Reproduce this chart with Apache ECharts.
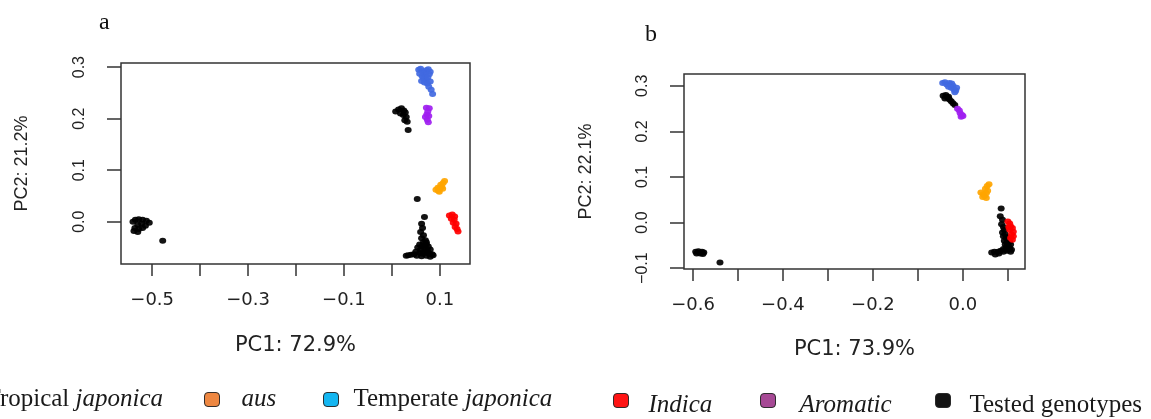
<!DOCTYPE html>
<html>
<head>
<meta charset="utf-8">
<script src="https://cdn.jsdelivr.net/npm/echarts@6/dist/echarts.min.js"></script>
<style>
  html, body { margin: 0; padding: 0; background: #fff; }
  #main { width: 1151px; height: 419px; }
</style>
</head>
<body>
<div id="main"></div>
<script>
// ---- panel a: PC1 vs PC2 ----
var aTested = [
  [-0.540, 0.000], [-0.535, 0.004], [-0.528, 0.005], [-0.520, 0.004], [-0.512, 0.002],
  [-0.506, -0.002], [-0.530, -0.006], [-0.522, -0.004], [-0.514, -0.008], [-0.536, -0.012],
  [-0.528, -0.014], [-0.538, -0.018], [-0.530, -0.020], [-0.520, -0.012], [-0.478, -0.037],
  [0.008, 0.214], [0.014, 0.218], [0.020, 0.220], [0.025, 0.216], [0.018, 0.210],
  [0.024, 0.207], [0.028, 0.212], [0.030, 0.203], [0.027, 0.197], [0.032, 0.194], [0.034, 0.178],
  [0.053, 0.044], [0.068, 0.009], [0.062, -0.004], [0.064, -0.012], [0.060, -0.020],
  [0.066, -0.026], [0.062, -0.032], [0.070, -0.036], [0.066, -0.040], [0.058, -0.044],
  [0.064, -0.046], [0.072, -0.044], [0.076, -0.048], [0.054, -0.050], [0.060, -0.054],
  [0.068, -0.052], [0.074, -0.056], [0.080, -0.054], [0.050, -0.058], [0.058, -0.060],
  [0.064, -0.062], [0.070, -0.060], [0.078, -0.062], [0.084, -0.063], [0.040, -0.064],
  [0.046, -0.063], [0.034, -0.065], [0.030, -0.066], [0.052, -0.066], [0.062, -0.067],
  [0.072, -0.066], [0.080, -0.068], [0.086, -0.065], [0.068, -0.047], [0.072, -0.040]
];
var aTemperate = [
  [0.056, 0.295], [0.060, 0.297], [0.064, 0.292], [0.068, 0.289], [0.072, 0.294],
  [0.076, 0.296], [0.080, 0.291], [0.078, 0.286], [0.070, 0.284], [0.063, 0.283],
  [0.058, 0.287], [0.066, 0.278], [0.072, 0.276], [0.075, 0.280], [0.068, 0.270],
  [0.074, 0.268], [0.080, 0.272], [0.077, 0.262], [0.082, 0.256], [0.085, 0.248], [0.062, 0.273]
];
var aAromatic = [
  [0.072, 0.221], [0.078, 0.220], [0.075, 0.214], [0.073, 0.208],
  [0.077, 0.205], [0.074, 0.198], [0.076, 0.193], [0.070, 0.203]
];
var aAus = [
  [0.092, 0.062], [0.097, 0.060], [0.100, 0.065], [0.104, 0.068], [0.102, 0.072],
  [0.107, 0.075], [0.110, 0.079], [0.096, 0.066], [0.106, 0.064], [0.099, 0.058]
];
var aIndica = [
  [0.120, 0.012], [0.126, 0.014], [0.131, 0.010], [0.124, 0.006], [0.130, 0.004],
  [0.128, -0.002], [0.134, -0.004], [0.132, -0.010], [0.136, -0.014], [0.138, -0.019]
];

// ---- panel b ----
var bTested = [
  [-0.594, -0.064], [-0.588, -0.063], [-0.580, -0.064], [-0.576, -0.066], [-0.584, -0.068],
  [-0.592, -0.068], [-0.578, -0.069], [-0.540, -0.088],
  [-0.044, 0.278], [-0.038, 0.280], [-0.032, 0.276], [-0.040, 0.272], [-0.030, 0.270],
  [-0.026, 0.266], [-0.022, 0.262], [-0.018, 0.258], [-0.034, 0.274],
  [0.085, 0.031], [0.083, 0.014], [0.088, 0.006], [0.086, -0.004], [0.090, -0.010],
  [0.092, -0.016], [0.088, -0.022], [0.094, -0.026], [0.090, -0.030], [0.096, -0.034],
  [0.100, -0.032], [0.092, -0.040], [0.098, -0.044], [0.104, -0.042], [0.094, -0.048],
  [0.100, -0.050], [0.106, -0.048], [0.096, -0.054], [0.104, -0.056], [0.108, -0.060],
  [0.090, -0.058], [0.084, -0.062], [0.078, -0.064], [0.070, -0.064], [0.064, -0.066],
  [0.072, -0.070], [0.080, -0.068], [0.090, -0.064], [0.098, -0.062], [0.106, -0.064], [0.100, -0.058]
];
var bTemperate = [
  [-0.045, 0.306], [-0.040, 0.308], [-0.036, 0.303], [-0.030, 0.306], [-0.025, 0.305],
  [-0.022, 0.300], [-0.026, 0.296], [-0.020, 0.292], [-0.016, 0.290], [-0.014, 0.296],
  [-0.032, 0.298], [-0.018, 0.286]
];
var bAromatic = [
  [-0.012, 0.250], [-0.008, 0.246], [-0.006, 0.240], [-0.002, 0.236], [-0.004, 0.232], [0.000, 0.234]
];
var bAus = [
  [0.040, 0.066], [0.045, 0.062], [0.048, 0.058], [0.052, 0.064], [0.055, 0.070],
  [0.050, 0.074], [0.054, 0.080], [0.058, 0.084], [0.044, 0.056], [0.052, 0.054]
];
var bIndica = [
  [0.100, 0.002], [0.104, -0.002], [0.106, -0.008], [0.110, -0.012], [0.104, -0.016],
  [0.112, -0.020], [0.108, -0.026], [0.112, -0.030], [0.106, -0.034], [0.110, -0.038], [0.102, -0.010]
];

// ---- axis ticks / labels ----
var aXTicks = [-0.5, -0.4, -0.3, -0.2, -0.1, 0.0, 0.1];
var aXLabels = [-0.5, -0.3, -0.1, 0.1];
var aYTicks = [0.0, 0.1, 0.2, 0.3];
var bXTicks = [-0.6, -0.5, -0.4, -0.3, -0.2, -0.1, 0.0, 0.1];
var bXLabels = [-0.6, -0.4, -0.2, 0.0];
var bYTicks = [-0.1, 0.0, 0.1, 0.2, 0.3];

var aXName = 'PC1: 72.9%', aYName = 'PC2: 21.2%';
var bXName = 'PC1: 73.9%', bYName = 'PC2: 22.1%';

var dotColors = {
  'Tropical japonica': '#2ca02c', 'aus': '#FFA500', 'Temperate japonica': '#4169E1',
  'Indica': '#FF0000', 'Aromatic': '#A020F0', 'Tested genotypes': '#000000'
};
var legendColors = {
  'Tropical japonica': '#3a9a3a', 'aus': '#ED7D31', 'Temperate japonica': '#00B0F0',
  'Indica': '#FF0000', 'Aromatic': '#9E3A8C', 'Tested genotypes': '#000000'
};

function fmt(v) {
  var s = Math.abs(v).toFixed(1);
  return (v < -1e-9 ? '\u2212' : '') + s;
}

var chart = echarts.init(document.getElementById('main'), null, { renderer: 'canvas' });

function xAxisOf(idx, min, max, ticks, labels, name, gap) {
  return {
    type: 'value', gridIndex: idx, min: min, max: max,
    name: name, nameLocation: 'middle', nameGap: gap,
    nameTextStyle: { fontFamily: 'DejaVu Sans', fontSize: 21, color: '#222' },
    axisLine: { show: false, onZero: false },
    axisTick: { show: true, inside: false, length: 12, customValues: ticks,
                lineStyle: { color: '#333', width: 1.5 } },
    axisLabel: { customValues: labels, margin: 27, formatter: fmt,
                 fontFamily: 'DejaVu Sans', fontSize: 18, color: '#222' },
    splitLine: { show: false }
  };
}
function yAxisOf(idx, min, max, ticks, name, gap) {
  return {
    type: 'value', gridIndex: idx, min: min, max: max,
    name: name, nameLocation: 'middle', nameGap: gap,
    nameTextStyle: { fontFamily: 'Liberation Sans', fontSize: 18, color: '#222' },
    axisLine: { show: false, onZero: false },
    axisTick: { show: true, inside: false, length: 14, customValues: ticks,
                lineStyle: { color: '#333', width: 1.5 } },
    axisLabel: { customValues: ticks, margin: 33, rotate: 90, formatter: fmt,
                 fontFamily: 'Liberation Sans', fontSize: 16, color: '#222' },
    splitLine: { show: false }
  };
}

var panelData = [
  { 'Tested genotypes': aTested, 'Temperate japonica': aTemperate, 'Aromatic': aAromatic,
    'aus': aAus, 'Indica': aIndica, 'Tropical japonica': [] },
  { 'Tested genotypes': bTested, 'Temperate japonica': bTemperate, 'Aromatic': bAromatic,
    'aus': bAus, 'Indica': bIndica, 'Tropical japonica': [] }
];
var drawOrder = ['Tropical japonica', 'Tested genotypes', 'Temperate japonica', 'Aromatic', 'aus', 'Indica'];

var series = [];
panelData.forEach(function (pd, i) {
  drawOrder.forEach(function (g) {
    series.push({
      name: g, type: 'scatter', xAxisIndex: i, yAxisIndex: i,
      symbol: 'circle', symbolSize: [7, 6],
      itemStyle: { color: dotColors[g], opacity: 0.92 },
      data: pd[g], silent: true
    });
  });
});

// legend: one component per entry, placed along the bottom row
var legendSpots = [
  { name: 'Tropical japonica', left: -50, top: 387, gap: 15, fmt: '{g|}{n|Tropical }{i|japonica}', pad: [0, 0, 0, 0] },
  { name: 'aus', left: 204, top: 387, gap: 17, fmt: '{g|}{i|aus}', pad: [0, 0, 0, 0] },
  { name: 'Temperate japonica', left: 323, top: 387, gap: 10, fmt: '{g|}{n|Temperate }{i|japonica}', pad: [0, 0, 0, 0] },
  { name: 'Indica', left: 613, top: 393, gap: 15, fmt: '{g|}{i|Indica}', pad: [10, 0, 0, 0] },
  { name: 'Aromatic', left: 760, top: 393, gap: 19, fmt: '{g|}{i|Aromatic}', pad: [10, 0, 0, 0] },
  { name: 'Tested genotypes', left: 935, top: 393, gap: 14, fmt: '{g|}{n|Tested genotypes}', pad: [10, 0, 0, 0] }
];
var legends = legendSpots.map(function (s) {
  var tf = { fontFamily: 'Liberation Serif', fontSize: 25, color: '#1a1a1a', padding: s.pad };
  return {
    left: s.left, top: s.top, padding: 0, orient: 'horizontal', selectedMode: false,
    icon: 'roundRect', itemWidth: 15, itemHeight: 14,
    data: [{ name: s.name, itemStyle: { color: legendColors[s.name], borderColor: '#222', borderWidth: 1 } }],
    formatter: function () { return s.fmt; },
    textStyle: {
      rich: {
        g: { width: s.gap, padding: s.pad },
        n: tf,
        i: Object.assign({}, tf, { fontStyle: 'italic' })
      }
    }
  };
});

var option = {
  backgroundColor: '#ffffff',
  animation: false,
  title: [
    { text: 'a', left: 94, top: 6, textStyle: { fontFamily: 'Liberation Serif', fontSize: 24, fontWeight: 'normal', color: '#111' } },
    { text: 'b', left: 640, top: 18, textStyle: { fontFamily: 'Liberation Serif', fontSize: 24, fontWeight: 'normal', color: '#111' } }
  ],
  grid: [
    { left: 121, top: 63, width: 349, height: 201, show: true, borderColor: '#333', borderWidth: 1.5, backgroundColor: 'transparent' },
    { left: 684, top: 74, width: 341, height: 195, show: true, borderColor: '#333', borderWidth: 1.5, backgroundColor: 'transparent' }
  ],
  xAxis: [
    xAxisOf(0, -0.565, 0.163, aXTicks, aXLabels, aXName, 71),
    xAxisOf(1, -0.62, 0.138, bXTicks, bXLabels, bXName, 70)
  ],
  yAxis: [
    yAxisOf(0, -0.082, 0.308, aYTicks, aYName, 90),
    yAxisOf(1, -0.102, 0.326, bYTicks, bYName, 89)
  ],
  legend: legends,
  series: series
};
chart.setOption(option);
</script>
</body>
</html>
